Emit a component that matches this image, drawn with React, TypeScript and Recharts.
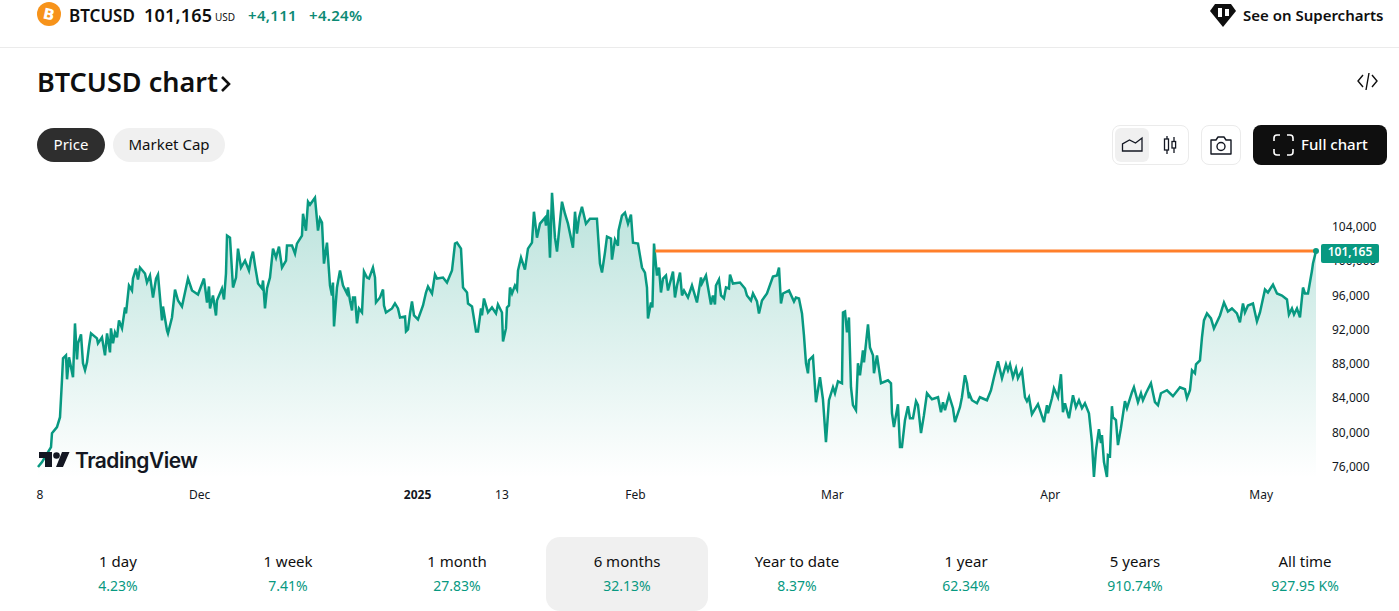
import { ComposedChart, Area, XAxis, YAxis, ReferenceLine, ReferenceDot } from "recharts";

// each point is [days since 8 Nov, price in USD]
const november: number[][] = [
  [0, 75976], [0.57, 76558], [1.85, 78302], [1.99, 79930], [2.7, 80628], [3.13, 81791], [3.41, 86093], [3.56, 88651], [3.98, 89000], [4.13, 86209],
  [4.41, 88767], [4.98, 86442], [5.26, 92721], [5.55, 88535], [5.69, 90395], [6.12, 91442], [6.4, 88070], [6.69, 87256], [6.97, 88186], [7.25, 90047],
  [7.54, 91558], [8.39, 90977], [8.53, 90395], [9.1, 91093], [9.53, 89000], [9.82, 91558], [10.24, 89349], [10.38, 92140], [10.67, 90395], [10.95, 91674],
  [11.24, 91093], [11.52, 93070], [11.95, 92140], [12.38, 94581], [12.52, 93884], [12.94, 97140], [13.37, 96558], [13.51, 97953], [13.94, 99116], [14.22, 97837],
  [14.51, 99233], [15.22, 98535], [15.5, 97488], [15.93, 98302], [16.36, 95744], [16.79, 97953], [17.07, 98419], [17.64, 93070], [17.78, 94698], [18.35, 91907],
  [18.49, 91558], [19.06, 93419], [19.49, 96674], [19.92, 95395], [20.48, 94698], [20.91, 96326], [21.34, 97953], [21.91, 96558], [22.33, 96326], [22.76, 96093],
];
const december: number[][] = [
  [23.61, 97953], [24.04, 95163], [24.32, 97023], [24.47, 94465], [24.89, 95977], [25.32, 93651], [25.46, 95395], [26.17, 96791], [26.46, 95512], [26.74, 98535],
  [26.89, 102953], [27.31, 102721], [27.74, 96907], [28.17, 98070], [28.45, 101442], [28.88, 99233], [29.45, 100047], [30.01, 98884], [30.3, 100279], [30.58, 101093],
  [30.87, 99465], [31.3, 97372], [31.86, 96791], [32.01, 97721], [32.29, 94465], [32.58, 96791], [33, 98070], [33.43, 101442], [33.86, 100395], [34.28, 101674],
  [34.71, 99233], [35.28, 100047], [35.42, 101791], [36.13, 101791], [36.56, 100860], [36.84, 102023], [37.55, 102953], [37.7, 105512], [38.12, 103535], [38.41, 106907],
  [38.69, 106558], [39.4, 107372], [39.83, 103535], [40.11, 104930], [40.4, 104465], [40.68, 99698], [41.11, 102140], [41.54, 97140], [41.82, 95977], [41.96, 97488],
  [42.11, 92372], [42.53, 96907], [42.96, 98884], [43.39, 97140], [43.95, 96209], [44.1, 96907], [44.38, 95395], [44.67, 94233], [44.81, 95744], [45.09, 95744],
  [45.38, 92721], [45.66, 94465], [46.09, 94000], [46.37, 98767], [46.8, 98070], [47.09, 97953], [47.65, 99233], [47.94, 98070], [48.08, 95163], [48.65, 95744],
  [49.08, 96674], [49.22, 94814], [49.5, 94000], [50.36, 94465], [50.78, 95047], [51.21, 94465], [51.5, 93419], [52.21, 93535], [52.35, 91791], [52.63, 92023],
  [52.92, 93884], [53.2, 95279], [53.49, 93651],
];
const january: number[][] = [
  [54.05, 93186], [54.77, 94814], [55.19, 96326], [55.48, 97023], [56.05, 96209], [56.47, 98419], [56.76, 97953], [57.61, 98070], [58.18, 97488], [58.89, 98884],
  [59.32, 102023], [59.6, 102140], [60.17, 101442], [60.46, 96907], [61.03, 96326], [61.17, 95047], [61.74, 94698], [62.31, 91791], [62.59, 91791], [63.02, 94465],
  [63.16, 93651], [63.44, 95628], [64.01, 94000], [64.58, 94581], [65.15, 93884], [65.43, 94930], [66, 94000], [66.15, 90628], [66.57, 92140], [66.71, 94581],
  [67, 94814], [67.14, 96907], [67.43, 96209], [67.85, 97140], [68.14, 96674], [68.28, 98884], [68.71, 100395], [69.27, 99000], [69.7, 101442], [70.27, 102140],
  [70.55, 105744], [70.98, 102721], [71.41, 104349], [72.12, 105047], [72.26, 104116], [72.55, 105977], [72.83, 100395], [73.12, 107953], [73.54, 102721], [73.83, 101093],
  [74.54, 106907], [74.96, 105512], [75.39, 104349], [76.1, 101558], [76.39, 105744], [76.67, 103186], [76.96, 105047], [77.38, 106326], [77.95, 104349], [78.52, 104930],
  [79.51, 104930], [79.94, 99698], [80.23, 98651], [80.65, 100977], [80.94, 102837], [81.51, 102605], [81.65, 100163], [82.08, 102488], [82.5, 101791], [82.58, 103535],
  [83.07, 105279], [83.5, 105628], [83.93, 104349], [84.35, 105395], [84.64, 102140],
];
const february: number[][] = [
  [85.35, 102023], [85.92, 99233], [86.34, 98651], [86.63, 96907], [86.77, 93302], [87.2, 95163], [87.4, 94581], [87.63, 102023], [88.05, 98302], [88.34, 99233],
  [88.62, 96326], [88.91, 97953], [89.33, 98302], [89.62, 96558], [90.33, 98767], [90.61, 95744], [90.9, 97140], [91.33, 98651], [91.61, 95977], [91.9, 96558],
  [92.46, 95744], [93.03, 97140], [93.74, 95163], [94.31, 98070], [94.45, 97372], [95.02, 98302], [95.73, 94930], [96.01, 95977], [96.3, 94930], [96.44, 97140],
  [96.87, 97837], [97.16, 95977], [97.58, 95628], [97.87, 96907], [98.29, 96791], [98.44, 98419], [98.86, 97372], [99.86, 97488], [100.57, 96791], [100.85, 95977],
  [101.42, 95395], [101.71, 96209], [102.28, 95279], [102.56, 93884], [102.99, 95395], [103.7, 96209], [104.55, 98186], [105.12, 98302], [105.41, 99233], [105.69, 95047],
  [105.98, 96209], [106.83, 96558], [107.54, 95279], [107.82, 95744], [108.25, 95628], [108.68, 93884], [108.96, 91326], [109.25, 88070], [109.53, 86907], [109.67, 88419],
  [110.24, 88884], [110.67, 83535], [111.24, 86442], [111.66, 83884], [112.09, 78884], [112.52, 83767],
];
const march: number[][] = [
  [113.09, 85279], [113.37, 84581], [113.8, 85977], [114.37, 85744], [114.51, 94000], [114.8, 94116], [115.08, 91674], [115.36, 93419], [115.65, 85279], [115.93, 83186],
  [116.36, 82605], [116.64, 88070], [116.93, 86674], [117.35, 89581], [117.5, 88186], [118.07, 92605], [118.35, 89930], [118.78, 89000], [118.92, 86907], [119.35, 89000],
  [119.92, 85744], [120.91, 86093], [121.34, 85744], [121.48, 82256], [121.76, 80628], [122.33, 83302], [122.62, 78302], [122.9, 78302], [123.33, 81442], [123.76, 83070],
  [124.04, 81674], [124.47, 81674], [124.9, 83651], [125.18, 83186], [125.61, 79930], [126.03, 82023], [126.46, 84581], [127.17, 83884], [128.03, 84116], [128.45, 82372],
  [128.74, 83535], [129.02, 82605], [129.59, 84349], [130.16, 82837], [130.44, 81209], [131.15, 82953], [131.43, 84116], [131.86, 86674], [132.15, 85744], [132.43, 84000],
  [132.57, 84349], [132.86, 83767], [133.57, 83419], [133.99, 84116], [134.99, 83767], [135.56, 84930], [135.99, 86442], [136.56, 88302], [137.13, 86326], [137.7, 87953],
  [137.98, 87256], [138.27, 87953], [138.69, 86442], [139.12, 87488], [139.4, 86326], [139.97, 87256], [140.4, 84116], [140.68, 83651], [140.97, 84116], [141.39, 82140],
  [142.25, 83302], [143.1, 81209], [143.53, 83186], [143.67, 82256],
];
const april: number[][] = [
  [144.24, 84000], [144.52, 85163], [145.09, 84116], [145.52, 86791], [145.8, 82372], [146.09, 83419], [146.66, 81674], [147.23, 84349], [147.65, 82953], [148.08, 83767],
  [148.51, 82837], [148.93, 83419], [149.5, 82256], [149.93, 78884], [150.21, 74814], [150.5, 77953], [150.92, 80395], [151.21, 78767], [151.35, 79698], [151.64, 76558],
  [152.06, 74814], [152.2, 77372], [152.49, 77256], [152.77, 83070], [152.91, 81791], [153.34, 81442], [153.63, 78535], [154.05, 80512], [154.62, 83651], [154.91, 82837],
  [155.62, 84698], [155.9, 85279], [156.47, 83535], [156.9, 84581], [157.18, 83767], [157.61, 84581], [158.32, 85744], [158.89, 83535], [159.32, 83186], [159.74, 84581],
  [160.6, 84930], [161.45, 84233], [162.45, 85279], [163.16, 85047], [163.44, 84000], [163.87, 84930], [164.16, 87256], [164.58, 86907], [164.73, 87953], [165.29, 88419],
  [165.58, 91093], [165.86, 93070], [166.29, 93884], [166.86, 93302], [167.28, 92140], [168.14, 93651], [168.71, 95163], [169.27, 94116], [169.84, 94465], [170.55, 93884],
  [170.98, 92837], [171.41, 95047], [171.69, 94000], [172.12, 94814], [172.83, 95047], [173.4, 92953], [173.83, 94000],
];
const may: number[][] = [
  [174.54, 96674], [174.96, 96326], [175.68, 97256], [176.25, 96209], [176.96, 95977], [177.67, 95512], [177.95, 93767], [178.38, 94465], [178.67, 93767], [179.09, 94465],
  [179.52, 93419], [179.95, 96907], [180.23, 96209], [180.66, 96209], [181.23, 98884], [181.37, 99698], [181.8, 101165],
];

const priceTicks = [76000, 80000, 84000, 88000, 92000, 96000, 100000, 104000];
const dayTicks = [0, 23, 54, 66, 85, 113, 144, 174];
const dayLabels = ["8", "Dec", "2025", "13", "Feb", "Mar", "Apr", "May"];

const periods = ["1 day", "1 week", "1 month", "6 months", "Year to date", "1 year", "5 years", "All time"];
const changes = ["4.23%", "7.41%", "27.83%", "32.13%", "8.37%", "62.34%", "910.74%", "927.95 K%"];
const periodCenters = [118, 288, 457, 627, 797, 966, 1135, 1305];

const lastPrice = 101165;
const prevCloseStart = 87.8;
const lastDay = 181.8;

const chartData = [...november, ...december, ...january, ...february, ...march, ...april, ...may].map(([day, price]) => ({ day, price }));

const FONT = "'Noto Sans', sans-serif";
const GREEN = "#089981";

function DayTick({ x, y, payload }: any) {
  const i = dayTicks.indexOf(payload.value);
  const isYear = dayLabels[i] === "2025";
  return (
    <text x={x + (i === 0 ? 2 : 0)} y={y + 13} textAnchor="middle" fontSize={12} fontFamily={FONT} fontWeight={isYear ? 700 : 400} fill="#131722">
      {dayLabels[i]}
    </text>
  );
}

function Txt({ x, y, size, weight = 400, color = "#0f0f0f", anchor = "left", spacing = 0, children }: any) {
  const style: any = { position: "absolute", top: y, fontSize: size, fontWeight: weight, color, lineHeight: 1, whiteSpace: "nowrap", letterSpacing: spacing, transform: "translateY(-50%)" };
  if (anchor === "left") style.left = x;
  else {
    style.left = x - 150;
    style.width = 300;
    style.textAlign = "center";
  }
  return <div style={style}>{children}</div>;
}

function Box({ x, y, w, h, r, bg, border }: any) {
  return <div style={{ position: "absolute", left: x, top: y, width: w, height: h, borderRadius: r, background: bg, border, boxSizing: "border-box" }} />;
}

function Icons() {
  return (
    <svg width={1399} height={611} style={{ position: "absolute", left: 0, top: 0, pointerEvents: "none" }}>
      <circle cx={49} cy={14} r={12} fill="#f7931a" />
      <text x={49} y={19.5} textAnchor="middle" fontSize={15} fontWeight={700} fill="#fff" fontFamily="'DejaVu Sans'" transform="rotate(12 49 14)">B</text>
      <path d="M1215 4h16l5 7-13 16-13-16z" fill="#0f0f0f" />
      <rect x={1218} y={8} width={4} height={9} fill="#fff" />
      <rect x={1225} y={9} width={4} height={7} fill="#fff" />
      <path d="M222 77l7 7-7 7" fill="none" stroke="#0f0f0f" strokeWidth={2.6} />
      <path d="M1363 75l-5 6 5 6M1372 75l5 6-5 6M1369 73l-3 17" fill="none" stroke="#0f0f0f" strokeWidth={1.4} />
      <path d="M1122.5 151v-7l7-4 6 3 6.5-5v13z" fill="none" stroke="#131722" strokeWidth={1.3} />
      <path d="M1167 136v18M1174 137v16" stroke="#131722" strokeWidth={1.3} />
      <rect x={1164.5} y={139} width={4} height={11} fill="#fff" stroke="#131722" strokeWidth={1.3} />
      <rect x={1172} y={141.5} width={3.6} height={6.5} fill="#fff" stroke="#131722" strokeWidth={1.3} />
      <path d="M1211 140h5l2-3h6l2 3h5v14h-20z" fill="none" stroke="#131722" strokeWidth={1.4} strokeLinejoin="round" />
      <circle cx={1221} cy={146.5} r={4} fill="none" stroke="#131722" strokeWidth={1.4} />
      <path d="M1274 141v-3q0-3 3-3h3M1287 135h3q3 0 3 3v3M1293 149v3q0 3-3 3h-3M1280 155h-3q-3 0-3-3v-3" fill="none" stroke="#fff" strokeWidth={1.6} />
      <path d="M52 452H39v6h6v9h7zM63 467h-7l6-15h7.5z" fill="#131722" />
      <circle cx={56.5} cy={455.5} r={3.3} fill="#131722" />
    </svg>
  );
}

export default function App() {
  return (
    <div style={{ position: "fixed", left: 0, top: 0, width: 1399, height: 611, overflow: "hidden", background: "#fff", fontFamily: FONT }}>
      <div style={{ position: "absolute", left: 0, top: 47, width: 1399, height: 1, background: "#ebebeb" }} />

      <Txt x={69} y={15} size={17} weight={600}>BTCUSD</Txt>
      <Txt x={144} y={15} size={18} weight={600} spacing={0.2}>101,165</Txt>
      <Txt x={215} y={17} size={10}>USD</Txt>
      <Txt x={248} y={15} size={15} weight={600} color="#0b8a74" spacing={0.3}>+4,111</Txt>
      <Txt x={309} y={15} size={15} weight={600} color="#0b8a74" spacing={0.3}>+4.24%</Txt>
      <Txt x={1243} y={14.5} size={15} weight={600}>See on Supercharts</Txt>

      <Txt x={37} y={81} size={27} weight={600}>BTCUSD chart</Txt>

      <Box x={37} y={128} w={68} h={34} r={17} bg="#2e2e2e" />
      <Box x={113} y={128} w={112} h={34} r={17} bg="#f0f0f0" />
      <Txt x={71} y={144} size={15} color="#fff" anchor="center">Price</Txt>
      <Txt x={169} y={144} size={15} anchor="center">Market Cap</Txt>

      <Box x={1112} y={125} w={77} h={40} r={8} border="1px solid #ebebeb" />
      <Box x={1115} y={128} w={34} h={34} r={6} bg="#f0f0f0" />
      <Box x={1201} y={125} w={40} h={40} r={8} border="1px solid #ebebeb" />
      <Box x={1253} y={125} w={134} h={40} r={8} bg="#0f0f0f" />
      <Txt x={1301} y={144} size={15} weight={500} color="#fff">Full chart</Txt>

      <div style={{ position: "absolute", left: 0, top: 180 }}>
        <ComposedChart width={1399} height={330} data={chartData} margin={{ top: 5.5, right: 0, bottom: 0, left: 38 }}>
          <defs>
            <linearGradient id="priceFill" x1="0" y1="0" x2="0" y2="1">
              <stop offset="0%" stopColor={GREEN} stopOpacity={0.28} />
              <stop offset="100%" stopColor={GREEN} stopOpacity={0} />
            </linearGradient>
          </defs>
          <XAxis
            dataKey="day"
            type="number"
            domain={[0, lastDay]}
            ticks={dayTicks}
            interval={0}
            height={32}
            axisLine={false}
            tickLine={false}
            tick={<DayTick />}
          />
          <YAxis
            orientation="right"
            width={83}
            domain={[74700, 108800]}
            ticks={priceTicks}
            interval={0}
            axisLine={false}
            tickLine={false}
            tickMargin={10}
            tick={{ fill: "#131722", fontSize: 12, fontFamily: FONT }}
            tickFormatter={(v: number) => v.toLocaleString("en-US")}
          />
          <Area type="linear" dataKey="price" stroke={GREEN} strokeWidth={2.5} fill="url(#priceFill)" fillOpacity={1} isAnimationActive={false} dot={false} activeDot={false} />
          <ReferenceDot x={lastDay} y={lastPrice} r={3} fill={GREEN} stroke="none" />
          <ReferenceLine segment={[{ x: prevCloseStart, y: lastPrice }, { x: lastDay, y: lastPrice }]} stroke="#ff7f2a" strokeWidth={3} />
        </ComposedChart>
      </div>

      <Box x={1321} y={244} w={58} h={19} r={2} bg={GREEN} />
      <Txt x={1350} y={252} size={12} weight={600} color="#fff" anchor="center">101,165</Txt>

      <Icons />
      <div style={{ position: "absolute", left: 75, top: 460, transform: "translateY(-50%)", fontFamily: "Inter, sans-serif", fontSize: 21, fontWeight: 600, color: "#131722", lineHeight: 1, letterSpacing: -0.5 }}>TradingView</div>

      <Box x={546} y={537} w={162} h={74} r={14} bg="#f0f0f0" />
      {periods.map((p, i) => (
        <div key={p}>
          <Txt x={periodCenters[i]} y={560.5} size={15} anchor="center">{p}</Txt>
          <Txt x={periodCenters[i]} y={586} size={14} color={GREEN} anchor="center">{changes[i]}</Txt>
        </div>
      ))}
    </div>
  );
}
